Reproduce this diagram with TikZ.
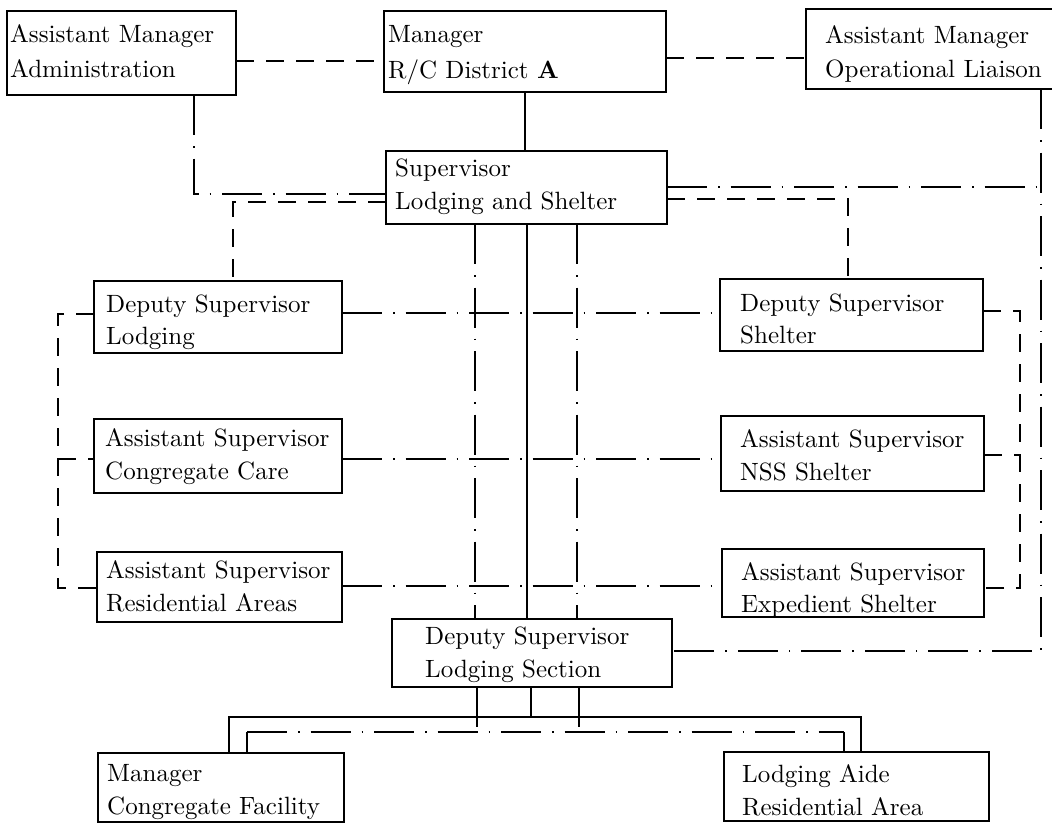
\documentclass[tikz,border=0pt]{standalone}
\usepackage{fontspec}
\setmainfont{lmroman10-regular}[Extension=.otf, BoldFont=lmroman10-bold]
\begin{document}
\begin{tikzpicture}[x=1pt,y=-1pt,
  box/.style={draw, line width=1.4pt, inner sep=0pt, outer sep=0pt, anchor=north west},
  lbl/.style={inner sep=0pt, anchor=base west, font=\fontsize{25}{33}\selectfont},
  conn/.style={line width=1.3pt},
  dsh/.style={conn, dash pattern=on 18pt off 12pt},
  dd/.style={conn, dash pattern=on 40pt off 11pt on 1.5pt off 11pt},
]
\fill[white] (0,0) rectangle (1052,823);
\useasboundingbox (0,0) rectangle (1052,823);

% boxes
\node[box, minimum width=229pt, minimum height=84pt] (adm) at (7,11) {};
\node[lbl] (adm-a) at (10,42) {Assistant Manager};
\node[lbl] (adm-b) at (10,77) {Administration};

\node[box, minimum width=282pt, minimum height=81pt] (mgr) at (384,11) {};
\node[lbl] (mgr-a) at (388,42) {Manager};
\node[lbl] (mgr-b) at (388,78) {R/C District \textbf{A}};

\node[box, minimum width=254pt, minimum height=80pt] (lia) at (806,9) {};
\node[lbl] (lia-a) at (825,43) {Assistant Manager};
\node[lbl] (lia-b) at (825,77) {Operational Liaison};

\node[box, minimum width=281pt, minimum height=73pt] (sup) at (386,151) {};
\node[lbl] (sup-a) at (395,176) {Supervisor};
\node[lbl] (sup-b) at (395,209) {Lodging and Shelter};

\node[box, minimum width=248pt, minimum height=72pt] (dsl) at (94,281) {};
\node[lbl] (dsl-a) at (106,312) {Deputy Supervisor};
\node[lbl] (dsl-b) at (106,344) {Lodging};

\node[box, minimum width=248pt, minimum height=74pt] (acc) at (94,419) {};
\node[lbl] (acc-a) at (105,446) {Assistant Supervisor};
\node[lbl] (acc-b) at (105,479) {Congregate Care};

\node[box, minimum width=245pt, minimum height=70pt] (ara) at (97,552) {};
\node[lbl] (ara-a) at (106,578) {Assistant Supervisor};
\node[lbl] (ara-b) at (106,611) {Residential Areas};

\node[box, minimum width=263pt, minimum height=72pt] (dss) at (720,279) {};
\node[lbl] (dss-a) at (740,311) {Deputy Supervisor};
\node[lbl] (dss-b) at (740,343) {Shelter};

\node[box, minimum width=263pt, minimum height=75pt] (ans) at (721,416) {};
\node[lbl] (ans-a) at (740,447) {Assistant Supervisor};
\node[lbl] (ans-b) at (740,480) {NSS Shelter};

\node[box, minimum width=262pt, minimum height=68pt] (aes) at (722,549) {};
\node[lbl] (aes-a) at (741,580) {Assistant Supervisor};
\node[lbl] (aes-b) at (741,612) {Expedient Shelter};

\node[box, minimum width=280pt, minimum height=68pt] (dls) at (392,619) {};
\node[lbl] (dls-a) at (425,644) {Deputy Supervisor};
\node[lbl] (dls-b) at (425,677) {Lodging Section};

\node[box, minimum width=246pt, minimum height=69pt] (mcf) at (98,753) {};
\node[lbl] (mcf-a) at (107,781) {Manager};
\node[lbl] (mcf-b) at (107,814) {Congregate Facility};

\node[box, minimum width=265pt, minimum height=69pt] (lar) at (724,752) {};
\node[lbl] (lar-a) at (742,782) {Lodging Aide};
\node[lbl] (lar-b) at (742,815) {Residential Area};

% helper coordinates
\coordinate (rt) at (1041,187);
\coordinate (rb) at (1041,651);
\coordinate (lbt) at (58,314);
\coordinate (lbm) at (58,459);
\coordinate (lbb) at (58,588);
\coordinate (rbt) at (1020,311);
\coordinate (rbm) at (1020,455);
\coordinate (rbb) at (1020,588);
\coordinate (sl) at (229,717);
\coordinate (sr) at (861,717);
\coordinate (dl) at (247,732);
\coordinate (dr) at (844,732);
\coordinate (cdl) at (477,732);
\coordinate (cdr) at (579,732);
\coordinate (csl) at (531,717);

% top row
\draw[dsh] (adm.east |- 0,61) -- (mgr.west |- 0,61);
\draw[dsh] (mgr.east |- 0,58) -- (lia.west |- 0,58);
\draw[conn] (mgr.south -| 525,0) -- (sup.north -| 525,0);
\draw[dd] (adm.south -| 194,0) |- (sup.west |- 0,194);
\draw[dsh] (sup.west |- 0,202) -| (dsl.north -| 233,0);
\draw[dsh] (sup.east |- 0,199) -| (dss.north -| 848,0);

% right long line
\draw[dd] (sup.east |- rt) -- (rt);
\draw[dd] (lia.south -| rt) -- (rb) -- (dls.east |- rb);

% horizontal links
\draw[dd] (dsl.east |- 0,313) -- (dss.west |- 0,313);
\draw[dd] (acc.east |- 0,459) -- (ans.west |- 0,459);
\draw[dd] (ara.east |- 0,586) -- (aes.west |- 0,586);

% left bracket
\draw[dsh] (dsl.west |- lbt) -- (lbt) -- (lbb) -- (ara.west |- lbb);
\draw[dsh] (lbm) -- (acc.west |- lbm);

% right bracket
\draw[dsh] (dss.east |- rbt) -- (rbt) -- (rbb) -- (aes.east |- rbb);
\draw[dsh] (ans.east |- rbm) -- (rbm);

% centre verticals
\draw[dd] (sup.south -| 475,0) -- (dls.north -| 475,0);
\draw[conn] (sup.south -| 527,0) -- (dls.north -| 527,0);
\draw[dd] (sup.south -| 577,0) -- (dls.north -| 577,0);

% below deputy supervisor lodging section
\draw[dd] (dls.south -| cdl) -- (cdl);
\draw[dd] (dls.south -| cdr) -- (cdr);
\draw[conn] (dls.south -| csl) -- (csl);
\draw[conn] (mcf.north -| sl) -- (sl) -- (sr) -- (lar.north -| sr);
\draw[conn] (mcf.north -| dl) -- (dl);
\draw[dd] (dl) -- (dr);
\draw[conn] (dr) -- (lar.north -| dr);
\end{tikzpicture}
\end{document}
